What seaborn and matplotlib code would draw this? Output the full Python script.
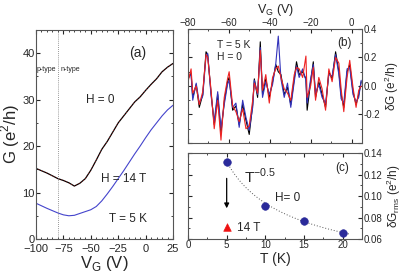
import numpy as np
import pandas as pd
import matplotlib
matplotlib.use('Agg')
import matplotlib.pyplot as plt
from matplotlib.ticker import MultipleLocator, FuncFormatter
import seaborn as sns

# panel (a): G vs V_G
vg_a = [-100, -90, -80, -75, -70, -65, -60, -55, -50, -45, -40, -35, -30,
        -25, -20, -15, -10, -5, 0, 5, 10, 15, 20, 25]
g_h0 = [15.2, 14.2, 13.0, 12.6, 12.1, 11.4, 12.0, 13.0, 14.8, 17.0, 19.3, 21.0,
        23.0, 25.0, 26.5, 28.0, 29.5, 30.6, 32.0, 33.3, 34.5, 36.0, 37.0, 37.8]
g_h14 = [7.7, 6.6, 5.6, 5.2, 5.0, 5.1, 5.5, 5.9, 6.3, 7.0, 8.2, 9.7,
         11.3, 13.0, 14.7, 16.5, 18.3, 20.0, 21.8, 23.5, 25.0, 26.5, 27.8, 28.8]

# panel (b): conductance fluctuations, three sweeps
vg_b = [-80, -78.5, -77.7, -76, -74.5, -72.8, -71.2, -70.4, -68.8, -67.2,
        -65.5, -63.9, -62.3, -60.7, -59.9, -58.2, -56.6, -55, -53.3, -51.7,
        -50.1, -48.4, -47.6, -46, -44.7, -43.6, -42, -40.3, -38.7, -37.1,
        -35.9, -34.6, -33, -31.4, -29.8, -28.1, -27, -25.7, -24, -22.4,
        -21.8, -20.1, -18.8, -17.7, -16.1, -14.5, -12.8, -11.2, -9.6, -7.9,
        -6.3, -5.2, -3.9, -2.3, -1, 0.6, 2.1, 3.4, 4.6]
dg_black = [0.05, 0.09, -0.08, 0.01, -0.15, -0.06, 0.24, 0.22, -0.04, -0.27,
            -0.06, -0.33, -0.11, 0.03, 0.06, -0.17, -0.14, -0.27, -0.13, -0.24,
            -0.34, -0.13, 0.05, -0.08, 0.31, -0.06, 0.05, -0.08, 0.03, 0.15,
            0.10, 0.08, -0.06, -0.01, -0.13, 0.05, 0.17, 0.08, 0.10, 0.05,
            -0.17, 0.03, 0.17, -0.08, 0.03, -0.06, -0.15, 0.10, 0.05, 0.24,
            0.10, -0.06, -0.15, 0.10, 0.15, -0.04, -0.13, -0.06, 0.03]
dg_red = [0.03, 0.12, -0.05, 0.0, -0.13, -0.04, 0.22, 0.20, -0.02, -0.30,
          -0.10, -0.38, -0.08, 0.05, 0.10, -0.14, -0.18, -0.25, -0.16, -0.30,
          -0.28, -0.10, 0.02, -0.05, 0.25, -0.03, 0.08, -0.12, 0.06, 0.12,
          0.14, 0.06, -0.02, -0.05, -0.10, 0.08, 0.13, 0.12, 0.06, 0.21,
          -0.08, 0.00, 0.13, -0.10, 0.06, -0.02, -0.17, 0.12, 0.03, 0.20,
          0.16, -0.02, -0.18, 0.06, 0.18, -0.01, -0.15, -0.03, 0.00]
dg_blue = [0.06, 0.08, -0.10, 0.02, -0.12, -0.07, 0.21, 0.23, -0.06, -0.25,
           -0.04, -0.30, -0.13, 0.01, 0.04, -0.15, -0.12, -0.29, -0.10, -0.22,
           -0.31, -0.15, 0.04, -0.06, 0.27, -0.08, 0.03, -0.06, 0.01, 0.16,
           0.35, 0.05, -0.08, 0.02, -0.15, 0.03, 0.14, 0.06, 0.12, 0.04,
           -0.12, 0.05, 0.15, -0.05, 0.01, -0.08, -0.12, 0.08, 0.07, 0.22,
           0.08, -0.09, -0.12, 0.12, 0.13, -0.06, -0.11, -0.08, 0.04]

# panel (c): rms fluctuation vs temperature
temps = [5, 10, 15, 20]
dg_rms = [0.132, 0.091, 0.077, 0.066]
t_14T = [5]
dg_rms_14T = [0.071]

sns.set_style('ticks')
plt.rcParams['font.family'] = ['Liberation Sans', 'DejaVu Sans']
plt.rcParams['xtick.direction'] = 'in'
plt.rcParams['ytick.direction'] = 'in'
plt.rcParams['axes.edgecolor'] = '#555555'
plt.rcParams['axes.linewidth'] = 0.8

fig = plt.figure(figsize=(4.09, 2.79), dpi=100)
ax_a = fig.add_axes([0.088, 0.1434, 0.335, 0.749])
ax_b = fig.add_axes([0.4597, 0.4875, 0.4254, 0.4086])
ax_c = fig.add_axes([0.4597, 0.1434, 0.4254, 0.308])

# ---- (a)
sns.lineplot(x=vg_a, y=g_h0, ax=ax_a, color='black', lw=0.9, sort=False)
sns.lineplot(x=vg_a, y=g_h0, ax=ax_a, color='#dd2222', lw=0.5, ls=(0, (1, 3)), sort=False)
sns.lineplot(x=vg_a, y=g_h14, ax=ax_a, color='#4444cc', lw=0.8, sort=False)
ax_a.axvline(-80, color='#777777', lw=0.6, ls=(0, (1, 1.5)))
ax_a.set_xlim(-100, 25)
ax_a.set_ylim(0, 45)
ax_a.xaxis.set_major_locator(MultipleLocator(25))
ax_a.xaxis.set_minor_locator(MultipleLocator(5))
ax_a.yaxis.set_major_locator(MultipleLocator(10))
ax_a.yaxis.set_minor_locator(MultipleLocator(5))
ax_a.tick_params(which='both', top=True, right=True, labelsize=8, pad=1)
ax_a.tick_params(axis='x', pad=3.5)
ax_a.tick_params(which='major', length=3)
ax_a.tick_params(which='minor', length=1.5)
ax_a.set_xlabel('V$_\\mathregular{G}$ (V)', fontsize=12, labelpad=0)
ax_a.set_ylabel('G (e$^\\mathregular{2}$/h)', fontsize=12, labelpad=0)
ax_a.text(-7, 40, '(a)', fontsize=10, ha='center', va='center')
ax_a.text(-99.5, 36.5, 'p-type', fontsize=5, va='center')
ax_a.text(-78, 36.5, 'n-type', fontsize=5, va='center')
ax_a.text(-41, 30, 'H = 0', fontsize=8.5, ha='center', va='center')
ax_a.text(-20, 13, 'H = 14 T', fontsize=8.5, ha='center', va='center')
ax_a.text(-16, 4.2, 'T = 5 K', fontsize=8.5, ha='center', va='center')

# ---- (b)
sns.lineplot(x=vg_b, y=dg_black, ax=ax_b, color='black', lw=0.8, sort=False)
sns.lineplot(x=vg_b, y=dg_blue, ax=ax_b, color='#3333bb', lw=0.8, sort=False)
sns.lineplot(x=vg_b, y=dg_red, ax=ax_b, color='#ee2222', lw=0.8, sort=False)
ax_b.set_xlim(-80, 5)
ax_b.set_ylim(-0.4, 0.4)
ax_b.xaxis.set_major_locator(MultipleLocator(20))
ax_b.xaxis.set_minor_locator(MultipleLocator(10))
ax_b.yaxis.set_major_locator(MultipleLocator(0.2))
ax_b.yaxis.set_minor_locator(MultipleLocator(0.1))
ax_b.xaxis.tick_top()
ax_b.xaxis.set_label_position('top')
ax_b.yaxis.tick_right()
ax_b.yaxis.set_label_position('right')
ax_b.tick_params(which='both', top=True, bottom=True, left=True, right=True,
                 labelsize=7, pad=1)
ax_b.tick_params(which='major', length=3)
ax_b.tick_params(which='minor', length=1.5)
ax_b.yaxis.set_major_formatter(
    FuncFormatter(lambda v, p: '' if v < -0.3 else f'{v:.1f}'.replace('-0.0', '0.0')))
ax_b.set_xlabel('V$_\\mathregular{G}$ (V)', fontsize=9, labelpad=3)
ax_b.set_ylabel('δG (e$^\\mathregular{2}$/h)', fontsize=8.5, labelpad=2)
ax_b.text(-66, 0.29, 'T = 5 K', fontsize=7.5, va='center')
ax_b.text(-66, 0.20, 'H = 0', fontsize=7.5, va='center')
ax_b.text(-3.5, 0.30, '(b)', fontsize=8.5, ha='center', va='center')

# ---- (c)
t_fit = np.linspace(5, 21, 60)
amp = dg_rms[0] * np.sqrt(temps[0])
ax_c.plot(t_fit, amp / np.sqrt(t_fit), color='#555555', lw=0.7, ls=(0, (1, 2)))
sns.scatterplot(x=temps, y=dg_rms, ax=ax_c, color='#2a2a9a', s=30,
                edgecolor='#2a2a9a', zorder=3)
sns.scatterplot(x=t_14T, y=dg_rms_14T, ax=ax_c, color='#ee1111', marker='^',
                s=30, edgecolor='#ee1111', zorder=3)
ax_c.annotate('', xy=(5, 0.086), xytext=(5, 0.119),
              arrowprops=dict(arrowstyle='-|>', color='black', lw=0.9,
                              mutation_scale=7))
ax_c.set_xlim(0, 22.5)
ax_c.set_ylim(0.06, 0.14)
ax_c.xaxis.set_major_locator(MultipleLocator(5))
ax_c.xaxis.set_minor_locator(MultipleLocator(2.5))
ax_c.yaxis.set_major_locator(MultipleLocator(0.02))
ax_c.yaxis.set_minor_locator(MultipleLocator(0.01))
ax_c.yaxis.tick_right()
ax_c.yaxis.set_label_position('right')
ax_c.tick_params(which='both', top=True, bottom=True, left=True, right=True,
                 labelsize=7, pad=1)
ax_c.tick_params(which='major', length=3)
ax_c.tick_params(which='minor', length=1.5)
ax_c.yaxis.set_major_formatter(matplotlib.ticker.FormatStrFormatter('%.2f'))
ax_c.set_xlabel('T (K)', fontsize=10, labelpad=1)
ax_c.set_ylabel('δG$_\\mathregular{rms}$ (e$^\\mathregular{2}$/h)', fontsize=8.5, labelpad=2)
ax_c.text(7.3, 0.118, 'T$^\\mathregular{-0.5}$', fontsize=11, va='center')
ax_c.text(11.3, 0.098, 'H= 0', fontsize=8.5, va='center')
ax_c.text(6.3, 0.070, '14 T', fontsize=8.5, va='center')
ax_c.text(20, 0.126, '(c)', fontsize=8.5, ha='center', va='center')

fig.savefig('out.png', dpi=100)
